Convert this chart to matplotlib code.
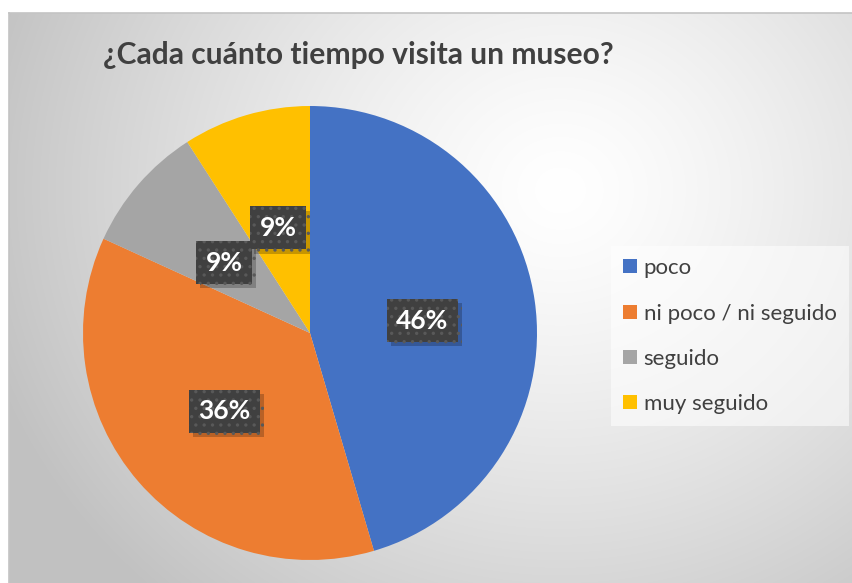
import numpy as np
import matplotlib
matplotlib.use("Agg")
import matplotlib.pyplot as plt
import matplotlib.patheffects as pe
from matplotlib.patches import Rectangle

W, H, DPI = 853, 583, 100

CATEGORIES = ["poco", "ni poco / ni seguido", "seguido", "muy seguido"]
PERCENTS = [45.5, 36.4, 9.1, 9.1]
COLORS = ["#4472C4", "#ED7D31", "#A5A5A5", "#FFC000"]
TITLE = "¿Cada cuánto tiempo visita un museo?"

plt.rcParams["font.family"] = ["Lato", "DejaVu Sans"]
plt.rcParams["hatch.linewidth"] = 1.2

fig = plt.figure(figsize=(W / DPI, H / DPI), dpi=DPI)
fig.patch.set_facecolor("white")

# chart-area background: radial grey-to-white gradient
bg = fig.add_axes([9 / W, 0, 1 - 9 / W, 1 - 13 / H])
yy, xx = np.mgrid[13:H, 9:W]
r = np.hypot(xx - 560, (yy - 190) * 1.1)
g = np.clip(1.0 - 0.22 * (r / 560) ** 1.3, 0.76, 1.0)
bg.imshow(np.dstack([g, g, g]), aspect="auto", extent=[0, 1, 0, 1])
bg.set_xlim(0, 1)
bg.set_ylim(0, 1)
bg.axis("off")
fig.add_artist(plt.Line2D([9 / W, 1], [1 - 13 / H, 1 - 13 / H], color="#c4c4c4", lw=1.2))
fig.add_artist(plt.Line2D([9 / W, 9 / W], [0, 1 - 13 / H], color="#c4c4c4", lw=1.2))

fig.text(103 / W, 1 - 55 / H, TITLE, fontsize=21.6, fontweight="bold",
         color="#404040", ha="left", va="center")

# pie
cx, cy, rad = 310, H - 333, 227
ax = fig.add_axes([(cx - rad) / W, (cy - rad) / H, 2 * rad / W, 2 * rad / H])
wedges, texts = ax.pie(
    PERCENTS, colors=COLORS, startangle=90, counterclock=False, radius=1,
    wedgeprops=dict(linewidth=0),
)
# data labels show the values themselves (Excel-style rounding)
for w, v in zip(wedges, PERCENTS):
    ang = np.deg2rad((w.theta1 + w.theta2) / 2)
    x, y = 0.5 * np.cos(ang), 0.5 * np.sin(ang) - 0.017
    t = ax.text(x, y, f"{int(v + 0.5)}%", ha="center", va="center",
                color="white", fontsize=19, fontweight="bold",
                bbox=dict(boxstyle="square,pad=0.36", facecolor="#404040",
                          edgecolor="#595959", linewidth=0, hatch=".."))
    t.get_bbox_patch().set_path_effects(
        [pe.SimplePatchShadow(offset=(3, -3), shadow_rgbFace="black", alpha=0.22),
         pe.Normal()])
ax.set_xlim(-1, 1)
ax.set_ylim(-1, 1)
ax.axis("off")

handles = [Rectangle((0, 0), 1, 1, facecolor=c, edgecolor="none") for c in COLORS]
leg = fig.legend(handles, CATEGORIES, loc="upper left",
                 bbox_to_anchor=(611 / W, 1 - 246 / H), fontsize=16,
                 labelcolor="#404040", frameon=True, fancybox=False,
                 handlelength=0.6, handleheight=0.6, handletextpad=0.32,
                 labelspacing=1.14, borderpad=0.55, borderaxespad=0)
leg.get_frame().set_facecolor("white")
leg.get_frame().set_alpha(0.55)
leg.get_frame().set_edgecolor("none")

fig.savefig("out.png", dpi=DPI)
